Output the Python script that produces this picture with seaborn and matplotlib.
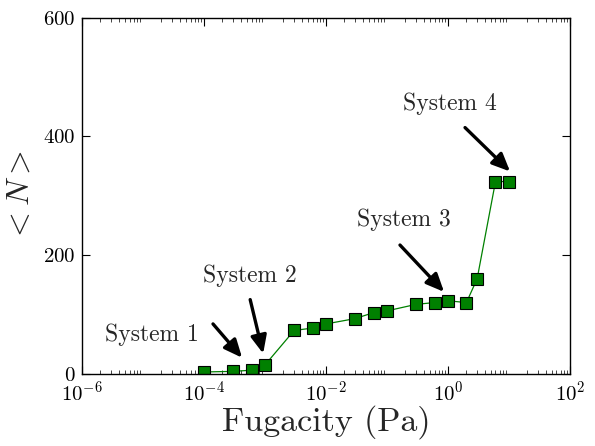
import numpy as np
import pandas as pd
import seaborn as sns
import matplotlib
matplotlib.use("Agg")
import matplotlib.pyplot as plt

fugacity = [1e-4, 3e-4, 6e-4, 1e-3, 3e-3, 6e-3, 1e-2, 3e-2, 6e-2, 0.1,
            0.3, 0.6, 1.0, 2.0, 3.0, 6.0, 10.0]
loading = [3, 4, 6, 15, 73, 77, 84, 93, 103, 106,
           117, 120, 123, 120, 160, 324, 324]

labels = ["System 1", "System 2", "System 3", "System 4"]
text_pos = [(1.4e-5, 65), (5.7e-4, 166), (0.19, 260), (1.07, 456)]
arrow_tail = [(1.4e-4, 84), (5.7e-4, 125), (0.163, 217), (1.9, 415)]
arrow_head = [(4.2e-4, 27), (9.3e-4, 34), (0.86, 138), (10.4, 341)]

sns.set_theme(style="ticks")
plt.rcParams.update({
    "font.family": ["cmr10", "DejaVu Serif"],
    "mathtext.fontset": "cm",
    "axes.formatter.use_mathtext": True,
    "axes.unicode_minus": False,
    "xtick.direction": "in",
    "ytick.direction": "in",
    "xtick.top": True,
    "ytick.right": True,
    "axes.edgecolor": "black",
    "axes.linewidth": 1.0,
})

df = pd.DataFrame({"f": fugacity, "n": loading})

fig, ax = plt.subplots(figsize=(5.95, 4.46), dpi=100)
fig.subplots_adjust(left=0.138, right=0.958, top=0.96, bottom=0.162)

sns.lineplot(data=df, x="f", y="n", ax=ax, color="green", linewidth=0.9,
             marker="s", markersize=8, markerfacecolor="green",
             markeredgecolor="black", markeredgewidth=0.8)

ax.set_xscale("log")
ax.set_xlim(1e-6, 1e2)
ax.set_ylim(0, 600)
ax.set_yticks([0, 200, 400, 600])
ax.set_xticks([1e-6, 1e-4, 1e-2, 1e0, 1e2])
ax.xaxis.set_minor_locator(matplotlib.ticker.LogLocator(base=10, subs=np.arange(2, 10), numticks=20))
ax.tick_params(axis="both", which="major", labelsize=15, length=6, width=0.8, colors="black", pad=5)
ax.tick_params(axis="x", which="minor", length=3, width=0.6, top=True)
ax.set_xlabel("Fugacity (Pa)", fontsize=24.5, labelpad=0)
ax.set_ylabel(r"$<N>$", fontsize=23, labelpad=6)

for lab, tp, tt, th in zip(labels, text_pos, arrow_tail, arrow_head):
    ax.text(tp[0], tp[1], lab, fontsize=17, ha="center", va="center")
    ax.annotate("", xy=th, xytext=tt,
                arrowprops=dict(arrowstyle="-|>,head_length=0.9,head_width=0.4",
                                color="black", lw=2.4, shrinkA=0, shrinkB=0))

fig.savefig("out.png", dpi=100)
